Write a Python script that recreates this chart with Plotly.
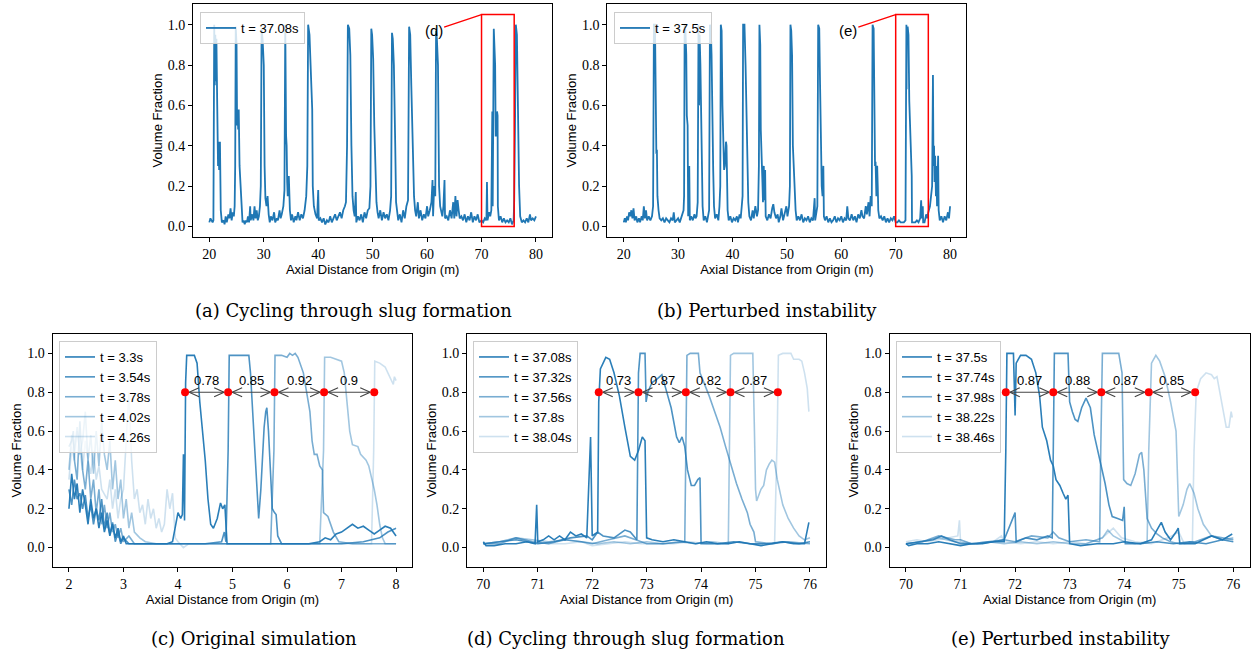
import plotly.graph_objects as go

# ---------------- data ----------------
# (a) t = 37.08s, 20..80 m
a_x = [20.0,20.2,20.4,20.6,20.75,20.8,20.9,21.0,21.1,21.2,21.3,21.45,21.6,21.7,21.8,21.95,22.1,22.3,22.6,22.8,23.0,23.2,23.5,23.7,23.9,24.1,24.3,24.5,24.65,24.75,24.85,25.0,25.1,25.2,25.3,25.4,25.55,25.7,25.9,26.0,26.1,26.3,26.5,26.7,26.9,27.1,27.3,27.5,27.6,27.9,28.1,28.3,28.5,28.7,28.9,29.1,29.3,29.45,29.6,29.8,30.0,30.15,30.3,30.5,30.7,30.9,31.1,31.3,31.6,31.9,32.1,32.4,32.6,32.9,33.1,33.3,33.6,33.8,33.95,34.1,34.2,34.3,34.4,34.6,34.8,35.0,35.2,35.5,35.8,36.0,36.3,36.6,36.9,37.2,37.5,37.8,38.0,38.15,38.4,38.6,38.75,38.9,39.0,39.2,39.5,39.8,40.0,40.1,40.4,40.7,41.0,41.3,41.6,41.9,42.2,42.5,42.8,43.1,43.4,43.7,44.0,44.3,44.6,44.9,45.1,45.3,45.45,45.7,45.9,46.1,46.3,46.5,46.7,46.9,47.0,47.3,47.6,47.9,48.2,48.5,48.8,49.1,49.4,49.6,49.75,49.9,50.1,50.3,50.5,50.7,50.9,51.1,51.4,51.7,52.0,52.3,52.6,52.9,53.2,53.4,53.55,53.7,53.9,54.0,54.15,54.3,54.5,54.7,55.0,55.3,55.6,55.9,56.2,56.5,56.7,56.9,57.1,57.2,57.4,57.6,57.8,58.0,58.3,58.5,58.8,59.1,59.4,59.7,60.0,60.2,60.5,60.8,61.0,61.1,61.3,61.5,61.65,61.8,62.0,62.2,62.4,62.6,62.8,63.0,63.2,63.3,63.6,63.9,64.2,64.5,64.8,65.0,65.2,65.4,65.6,65.8,66.0,66.3,66.6,66.9,67.2,67.5,67.8,68.1,68.4,68.7,69.0,69.3,69.6,70.0,70.3,70.6,70.9,71.0,71.1,71.4,71.6,71.8,71.98,72.05,72.15,72.25,72.5,72.6,72.75,72.85,72.95,73.0,73.2,73.5,73.8,74.1,74.4,74.7,75.0,75.3,75.6,75.9,76.0,76.15,76.3,76.5,76.7,76.9,77.1,77.4,77.7,78.0,78.3,78.6,78.9,79.1,79.4,79.7,80.0]
a_y = [0.02,0.04,0.03,0.02,0.03,0.55,1.00,0.70,0.95,0.72,0.93,0.60,0.30,0.42,0.28,0.42,0.08,0.02,0.03,0.01,0.05,0.02,0.06,0.04,0.09,0.03,0.07,0.05,0.10,0.30,0.99,0.90,0.50,0.58,0.48,0.58,0.30,0.22,0.15,0.12,0.02,0.03,0.01,0.03,0.02,0.05,0.02,0.10,0.03,0.06,0.03,0.10,0.04,0.08,0.03,0.05,0.10,0.20,0.98,0.92,0.80,0.30,0.14,0.10,0.15,0.06,0.02,0.05,0.03,0.07,0.02,0.04,0.03,0.08,0.04,0.06,0.10,0.18,1.00,0.45,0.40,0.22,0.15,0.25,0.08,0.03,0.06,0.02,0.05,0.03,0.07,0.03,0.06,0.04,0.08,0.15,0.30,1.00,0.95,0.80,0.60,0.58,0.20,0.10,0.06,0.04,0.18,0.03,0.04,0.02,0.04,0.01,0.03,0.02,0.05,0.02,0.04,0.06,0.03,0.05,0.07,0.04,0.08,0.10,0.12,0.40,1.00,0.98,0.85,0.40,0.15,0.08,0.05,0.17,0.02,0.05,0.03,0.06,0.02,0.07,0.04,0.08,0.09,0.20,0.98,0.95,0.83,0.50,0.25,0.12,0.07,0.04,0.08,0.03,0.07,0.04,0.06,0.03,0.08,0.15,0.96,0.93,0.80,0.45,0.40,0.12,0.08,0.03,0.06,0.02,0.08,0.04,0.10,0.13,0.99,0.95,0.70,0.58,0.30,0.15,0.08,0.05,0.12,0.04,0.08,0.03,0.06,0.04,0.10,0.05,0.08,0.12,0.23,0.05,0.20,0.15,0.97,0.93,0.80,0.20,0.10,0.07,0.05,0.10,0.23,0.04,0.05,0.03,0.08,0.04,0.12,0.04,0.15,0.05,0.13,0.08,0.04,0.05,0.03,0.06,0.02,0.05,0.03,0.07,0.02,0.05,0.03,0.06,0.02,0.03,0.02,0.04,0.03,0.22,0.03,0.07,0.05,0.08,0.57,0.10,0.75,0.98,0.80,0.45,0.45,0.57,0.55,0.10,0.03,0.05,0.02,0.04,0.02,0.03,0.02,0.04,0.01,0.03,0.13,0.50,1.00,0.95,0.50,0.20,0.05,0.02,0.03,0.02,0.04,0.02,0.06,0.03,0.04,0.03,0.05]

# (b) t = 37.5s, 20..80 m
b_x = [20.0,20.2,20.4,20.6,20.8,21.0,21.2,21.4,21.6,21.8,22.0,22.3,22.5,22.8,23.0,23.3,23.5,23.7,23.9,24.1,24.3,24.6,24.9,25.2,25.4,25.55,25.75,25.9,26.0,26.1,26.2,26.4,26.6,26.9,27.2,27.5,27.8,28.1,28.4,28.7,29.0,29.2,29.4,29.7,30.0,30.3,30.6,30.8,31.0,31.1,31.2,31.35,31.5,31.6,31.75,31.85,32.05,32.15,32.4,32.7,33.0,33.2,33.4,33.6,33.75,33.85,33.95,34.1,34.2,34.3,34.4,34.5,34.7,35.0,35.3,35.5,35.7,35.85,36.0,36.15,36.3,36.45,36.6,36.8,37.1,37.4,37.6,37.75,37.85,38.0,38.15,38.3,38.45,38.6,38.8,38.9,39.1,39.3,39.6,39.9,40.2,40.5,40.8,41.0,41.3,41.5,41.7,41.85,41.95,42.2,42.4,42.6,42.75,42.9,43.1,43.4,43.7,43.9,44.2,44.5,44.7,44.85,44.95,45.1,45.2,45.35,45.5,45.6,45.75,45.85,46.0,46.1,46.4,46.7,47.0,47.3,47.5,47.7,48.0,48.3,48.5,48.8,49.0,49.3,49.6,49.9,50.1,50.4,50.55,50.65,50.8,50.95,51.1,51.25,51.4,51.6,51.8,52.1,52.4,52.7,53.0,53.3,53.6,53.9,54.2,54.5,54.8,55.1,55.2,55.4,55.6,55.75,55.95,56.1,56.25,56.4,56.55,56.7,56.8,57.0,57.3,57.6,57.9,58.2,58.5,58.8,59.1,59.4,59.7,60.0,60.3,60.6,60.9,61.1,61.3,61.6,61.9,62.2,62.5,62.8,63.1,63.4,63.7,63.9,64.2,64.5,64.7,65.0,65.2,65.4,65.6,65.75,65.95,66.1,66.2,66.3,66.45,66.6,66.7,66.8,67.0,67.3,67.6,67.9,68.2,68.5,68.8,69.1,69.4,69.7,70.0,70.3,70.6,70.9,71.2,71.5,71.8,71.83,71.85,71.97,72.0,72.05,72.2,72.35,72.5,72.65,72.8,72.95,73.0,73.3,73.6,73.9,74.2,74.5,74.68,74.8,74.98,75.05,75.3,75.6,75.8,76.0,76.3,76.5,76.7,76.85,76.95,77.05,77.15,77.25,77.4,77.5,77.6,77.8,77.9,78.1,78.4,78.7,79.0,79.3,79.6,79.8,80.0]
b_y = [0.02,0.04,0.02,0.05,0.03,0.07,0.05,0.08,0.04,0.09,0.03,0.05,0.02,0.04,0.02,0.05,0.03,0.10,0.04,0.08,0.03,0.05,0.03,0.05,0.10,1.00,1.00,0.40,0.36,0.38,0.15,0.08,0.04,0.03,0.04,0.02,0.04,0.03,0.02,0.04,0.03,0.07,0.02,0.03,0.04,0.02,0.05,0.06,0.08,0.15,1.00,0.97,0.85,0.55,0.50,0.05,0.30,0.03,0.05,0.03,0.06,0.04,0.05,0.12,1.00,0.60,0.95,0.80,0.60,0.42,0.40,0.10,0.03,0.05,0.02,0.06,0.08,1.00,0.98,0.85,0.45,0.28,0.10,0.04,0.06,0.03,0.10,0.20,1.00,0.97,0.60,0.35,0.28,0.30,0.42,0.40,0.08,0.03,0.05,0.02,0.04,0.03,0.05,0.02,0.06,0.04,0.10,0.15,1.00,1.00,0.80,0.55,0.30,0.12,0.05,0.03,0.08,0.04,0.10,0.05,0.08,0.30,1.00,0.90,0.48,0.25,0.22,0.12,0.30,0.13,0.28,0.05,0.03,0.06,0.04,0.09,0.11,0.07,0.04,0.06,0.02,0.05,0.09,0.03,0.06,0.10,0.05,0.10,0.20,1.00,0.97,0.85,0.40,0.30,0.18,0.08,0.03,0.05,0.03,0.06,0.02,0.04,0.03,0.05,0.02,0.04,0.03,0.14,0.03,0.06,0.10,1.00,0.98,0.70,0.30,0.20,0.15,0.30,0.05,0.03,0.05,0.02,0.04,0.02,0.03,0.05,0.02,0.04,0.03,0.05,0.02,0.04,0.03,0.10,0.04,0.03,0.06,0.03,0.05,0.02,0.06,0.04,0.08,0.05,0.04,0.10,0.06,0.12,0.05,0.15,0.10,1.00,0.98,0.60,0.30,0.32,0.15,0.30,0.20,0.08,0.04,0.05,0.03,0.05,0.02,0.04,0.02,0.04,0.03,0.05,0.02,0.02,0.03,0.02,0.02,0.02,0.03,0.50,1.00,1.00,0.68,0.97,0.99,0.95,0.62,0.45,0.32,0.25,0.02,0.02,0.02,0.03,0.02,0.04,0.13,0.04,0.10,0.02,0.02,0.06,0.04,0.07,0.10,0.15,0.20,0.75,0.30,0.40,0.22,0.35,0.15,0.30,0.10,0.35,0.08,0.03,0.05,0.02,0.05,0.03,0.07,0.04,0.10]

# (c) original simulation, 2..8 m
c_labels = ["t = 3.3s", "t = 3.54s", "t = 3.78s", "t = 4.02s", "t = 4.26s"]
c1_x = [2.0,2.05,2.1,2.15,2.2,2.25,2.3,2.35,2.4,2.45,2.5,2.55,2.6,2.65,2.7,2.75,2.8,2.85,2.9,2.95,3.0,3.05,3.2,3.5,3.8,3.9,3.95,4.0,4.05,4.08,4.1,4.12,4.14,4.16,4.3,4.35,4.4,4.45,4.5,4.55,4.6,4.65,4.72,4.78,4.82,4.86,4.9,5.2,5.6,6.0,6.4,6.6,6.7,6.8,6.9,7.0,7.1,7.2,7.3,7.4,7.5,7.6,7.7,7.8,7.9,8.0]
c1_y = [0.20,0.38,0.25,0.33,0.18,0.30,0.22,0.12,0.25,0.15,0.20,0.10,0.18,0.08,0.14,0.06,0.12,0.05,0.10,0.03,0.06,0.02,0.02,0.02,0.02,0.03,0.10,0.18,0.15,0.17,0.48,0.14,0.85,0.99,0.99,0.95,0.75,0.60,0.45,0.25,0.12,0.10,0.15,0.23,0.20,0.22,0.02,0.02,0.02,0.02,0.02,0.03,0.05,0.04,0.07,0.08,0.10,0.12,0.10,0.11,0.09,0.07,0.09,0.11,0.10,0.06]
c2_x = [2.0,2.05,2.1,2.15,2.2,2.25,2.3,2.35,2.4,2.45,2.5,2.55,2.6,2.65,2.7,2.75,2.8,2.85,2.9,2.95,3.0,3.1,3.5,4.0,4.5,4.8,4.85,4.88,4.92,4.94,5.3,5.33,5.36,5.4,5.45,5.48,5.52,5.55,5.58,5.61,5.63,5.66,5.7,5.73,5.77,5.8,5.83,5.9,6.5,7.0,7.4,7.7,7.85,8.0]
c2_y = [0.30,0.22,0.35,0.25,0.28,0.20,0.27,0.15,0.22,0.12,0.20,0.14,0.25,0.10,0.18,0.07,0.13,0.03,0.08,0.02,0.05,0.02,0.02,0.02,0.02,0.03,0.08,0.03,0.50,0.99,0.99,0.90,0.75,0.50,0.25,0.15,0.30,0.45,0.62,0.70,0.72,0.60,0.40,0.20,0.18,0.17,0.06,0.02,0.02,0.02,0.03,0.05,0.08,0.10]
c3_x = [2.0,2.05,2.08,2.1,2.15,2.2,2.25,2.3,2.35,2.4,2.45,2.5,2.55,2.6,2.65,2.7,2.75,2.8,2.85,2.9,2.95,3.0,3.1,3.2,3.5,4.0,4.5,5.0,5.5,5.7,5.76,5.78,5.9,6.0,6.05,6.1,6.15,6.2,6.3,6.38,6.42,6.46,6.5,6.55,6.6,6.65,6.67,6.75,6.85,6.95,7.2,7.6,8.0]
c3_y = [0.52,0.55,0.60,0.45,0.35,0.65,0.40,0.30,0.45,0.25,0.35,0.18,0.30,0.12,0.22,0.10,0.18,0.08,0.12,0.05,0.10,0.03,0.06,0.02,0.02,0.02,0.02,0.02,0.02,0.02,0.50,0.99,0.99,0.98,1.00,0.99,1.00,0.98,0.90,0.75,0.70,0.55,0.48,0.48,0.42,0.40,0.18,0.16,0.08,0.03,0.02,0.02,0.02]
c4_x = [2.0,2.05,2.1,2.15,2.2,2.25,2.3,2.35,2.4,2.45,2.5,2.55,2.6,2.65,2.7,2.75,2.8,2.85,2.9,2.95,3.0,3.05,3.1,3.15,3.2,3.3,3.4,3.6,4.0,5.0,6.0,6.6,6.67,6.69,6.8,6.9,7.0,7.05,7.1,7.15,7.2,7.3,7.35,7.45,7.5,7.55,7.6,7.65,7.7,7.75,7.8,8.0]
c4_y = [0.40,0.58,0.50,0.62,0.48,0.55,0.70,0.45,0.58,0.38,0.60,0.42,0.65,0.48,0.40,0.55,0.30,0.45,0.25,0.35,0.15,0.25,0.10,0.18,0.08,0.05,0.03,0.02,0.02,0.02,0.02,0.02,0.50,0.98,0.98,0.97,0.96,0.90,0.75,0.60,0.53,0.52,0.48,0.45,0.42,0.36,0.30,0.22,0.12,0.05,0.02,0.02]
c5_x = [2.0,2.05,2.1,2.15,2.2,2.25,2.3,2.35,2.4,2.45,2.5,2.55,2.6,2.7,2.75,2.8,2.85,2.9,2.95,3.0,3.05,3.1,3.15,3.2,3.25,3.3,3.35,3.4,3.45,3.5,3.55,3.6,3.65,3.7,3.75,3.8,3.85,3.9,3.95,4.0,4.1,4.2,5.0,6.0,7.0,7.55,7.59,7.61,7.7,7.8,7.85,7.9,7.95,7.97,8.0]
c5_y = [0.35,0.52,0.45,0.60,0.50,0.40,0.55,0.45,0.38,0.50,0.35,0.42,0.30,0.25,0.35,0.20,0.30,0.15,0.25,0.30,0.55,0.80,0.45,0.25,0.30,0.18,0.22,0.12,0.25,0.15,0.20,0.10,0.15,0.08,0.12,0.30,0.20,0.28,0.05,0.03,0.00,0.02,0.02,0.02,0.02,0.02,0.50,0.96,0.95,0.93,0.90,0.87,0.84,0.88,0.86]
c_marks = [4.13, 4.92, 5.77, 6.68, 7.60]
c_speeds = ["0.78", "0.85", "0.92", "0.9"]

# (d) cycling through slug formation, 70..76 m
d_labels = ["t = 37.08s", "t = 37.32s", "t = 37.56s", "t = 37.8s", "t = 38.04s"]
d1_x = [70.0,70.05,70.2,70.4,70.6,70.8,70.95,70.98,71.0,71.1,71.2,71.3,71.4,71.5,71.6,71.7,71.8,71.9,71.97,72.0,72.05,72.1,72.12,72.15,72.25,72.32,72.4,72.5,72.6,72.7,72.78,72.85,72.92,72.97,73.0,73.1,73.3,73.5,73.7,73.9,74.1,74.3,74.5,74.7,74.9,75.1,75.3,75.5,75.7,75.9,75.98]
d1_y = [0.03,0.01,0.01,0.02,0.02,0.03,0.02,0.22,0.03,0.04,0.06,0.04,0.06,0.04,0.08,0.06,0.07,0.05,0.57,0.06,0.07,0.08,0.75,0.92,0.98,0.97,0.90,0.78,0.62,0.47,0.45,0.50,0.57,0.55,0.05,0.04,0.03,0.04,0.03,0.02,0.03,0.02,0.02,0.03,0.02,0.01,0.02,0.03,0.02,0.02,0.13]
d2_x = [70.0,70.3,70.6,70.8,71.0,71.3,71.6,71.9,72.0,72.1,72.2,72.4,72.6,72.7,72.82,72.85,72.88,72.97,72.99,73.02,73.1,73.2,73.28,73.35,73.45,73.55,73.6,73.65,73.7,73.75,73.82,73.88,73.94,73.98,74.0,74.3,74.6,74.9,75.2,75.5,75.8,76.0]
d2_y = [0.02,0.03,0.04,0.03,0.02,0.03,0.05,0.06,0.04,0.08,0.06,0.05,0.09,0.08,0.04,0.90,1.00,1.00,0.75,0.80,0.85,0.87,0.89,0.82,0.72,0.57,0.54,0.57,0.52,0.40,0.32,0.32,0.35,0.36,0.02,0.02,0.03,0.02,0.02,0.03,0.02,0.03]
d3_x = [70.0,70.3,70.6,70.9,71.2,71.5,71.8,72.0,72.3,72.6,72.8,73.0,73.3,73.6,73.7,73.72,73.74,73.8,73.95,73.98,74.05,74.1,74.15,74.25,74.35,74.45,74.55,74.65,74.75,74.85,74.9,74.97,75.0,75.3,75.6,76.0]
d3_y = [0.02,0.02,0.05,0.03,0.02,0.04,0.03,0.02,0.04,0.06,0.04,0.02,0.02,0.03,0.03,0.50,0.99,1.00,1.00,0.90,0.85,0.82,0.78,0.70,0.62,0.52,0.42,0.33,0.25,0.18,0.12,0.08,0.03,0.02,0.03,0.02]
d4_x = [70.0,70.3,70.6,70.9,71.2,71.5,71.8,72.1,72.4,72.7,73.0,73.3,73.6,73.9,74.2,74.5,74.52,74.54,74.6,74.95,74.98,75.0,75.02,75.06,75.1,75.15,75.2,75.25,75.3,75.35,75.4,75.5,75.6,75.7,75.8,75.9,76.0]
d4_y = [0.02,0.03,0.05,0.04,0.03,0.04,0.03,0.02,0.03,0.02,0.03,0.02,0.03,0.02,0.03,0.02,0.50,0.99,1.00,1.00,0.60,0.30,0.24,0.27,0.30,0.32,0.40,0.43,0.45,0.44,0.35,0.22,0.15,0.10,0.06,0.04,0.05]
d5_x = [70.0,70.3,70.6,70.9,71.2,71.5,71.8,72.0,72.3,72.6,72.9,73.2,73.5,73.8,74.1,74.4,74.7,74.9,75.1,75.35,75.4,75.42,75.5,75.65,75.7,75.8,75.85,75.9,75.95,75.98]
d5_y = [0.02,0.03,0.05,0.03,0.02,0.02,0.03,0.01,0.02,0.03,0.02,0.02,0.02,0.03,0.02,0.02,0.03,0.02,0.02,0.02,0.60,0.99,1.00,1.00,0.97,0.97,0.96,0.90,0.82,0.70]
d_marks = [72.12, 72.85, 73.72, 74.54, 75.41]
d_speeds = ["0.73", "0.87", "0.82", "0.87"]

# (e) perturbed instability, 70..76 m
e_labels = ["t = 37.5s", "t = 37.74s", "t = 37.98s", "t = 38.22s", "t = 38.46s"]
e1_x = [70.0,70.05,70.2,70.4,70.6,70.8,71.0,71.2,71.4,71.6,71.8,71.83,71.85,71.97,72.0,72.02,72.1,72.2,72.3,72.38,72.45,72.5,72.58,72.65,72.7,72.75,72.82,72.88,72.93,72.97,73.0,73.2,73.5,73.8,74.0,74.3,74.5,74.62,74.68,74.75,74.85,74.95,74.99,75.02,75.3,75.6,75.8,75.98]
e1_y = [0.02,0.01,0.02,0.02,0.03,0.02,0.01,0.02,0.02,0.03,0.03,0.50,1.00,1.00,0.68,0.95,0.99,0.99,0.97,0.90,0.78,0.62,0.55,0.45,0.42,0.35,0.32,0.28,0.25,0.27,0.02,0.01,0.02,0.02,0.03,0.02,0.04,0.10,0.13,0.08,0.04,0.08,0.10,0.02,0.02,0.06,0.04,0.07]
e2_x = [70.0,70.3,70.5,70.65,70.8,71.0,71.3,71.6,71.8,72.0,72.02,72.2,72.4,72.6,72.68,72.7,72.72,72.97,73.0,73.05,73.1,73.15,73.22,73.3,73.38,73.45,73.55,73.65,73.72,73.78,73.88,73.97,74.0,74.02,74.3,74.6,74.9,75.2,75.5,75.8,76.0]
e2_y = [0.02,0.03,0.04,0.06,0.04,0.02,0.02,0.03,0.04,0.18,0.03,0.05,0.04,0.06,0.05,0.50,1.00,1.00,0.75,0.70,0.66,0.65,0.72,0.77,0.72,0.58,0.45,0.33,0.22,0.16,0.15,0.14,0.21,0.02,0.02,0.03,0.02,0.03,0.02,0.04,0.03]
e3_x = [70.0,70.3,70.6,70.9,71.0,71.2,71.5,71.8,72.0,72.3,72.6,72.7,72.8,73.0,73.3,73.55,73.57,73.6,73.9,73.96,73.99,74.05,74.12,74.2,74.28,74.32,74.36,74.42,74.5,74.6,74.7,74.85,75.0,75.3,75.6,76.0]
e3_y = [0.02,0.03,0.06,0.04,0.04,0.02,0.03,0.04,0.03,0.06,0.05,0.08,0.05,0.03,0.04,0.03,0.50,1.00,1.00,0.90,0.35,0.33,0.32,0.38,0.48,0.49,0.40,0.15,0.10,0.07,0.05,0.03,0.02,0.03,0.06,0.04]
e4_x = [70.0,70.3,70.6,70.9,71.2,71.5,71.8,72.1,72.4,72.7,73.0,73.3,73.6,73.7,73.8,74.0,74.2,74.42,74.45,74.5,74.58,74.65,74.75,74.85,74.95,74.99,75.0,75.08,75.15,75.2,75.28,75.35,75.45,75.6,75.8,76.0]
e4_y = [0.02,0.03,0.05,0.03,0.02,0.03,0.02,0.03,0.02,0.03,0.02,0.02,0.05,0.09,0.06,0.03,0.02,0.03,0.50,0.95,0.99,0.96,0.88,0.75,0.60,0.30,0.16,0.22,0.30,0.33,0.28,0.20,0.12,0.06,0.04,0.05]
e5_x = [70.0,70.2,70.4,70.6,70.8,70.95,70.98,71.0,71.3,71.6,71.75,71.8,72.1,72.4,72.7,73.0,73.3,73.6,73.8,73.95,74.2,74.5,74.8,75.0,75.1,75.25,75.28,75.32,75.4,75.5,75.6,75.65,75.7,75.75,75.82,75.87,75.92,75.96,75.98]
e5_y = [0.03,0.04,0.03,0.04,0.05,0.06,0.14,0.03,0.02,0.03,0.06,0.03,0.02,0.03,0.02,0.03,0.02,0.05,0.10,0.05,0.03,0.02,0.05,0.08,0.02,0.03,0.50,0.80,0.87,0.90,0.89,0.87,0.88,0.80,0.70,0.62,0.62,0.70,0.67]
e_marks = [71.83, 72.70, 73.58, 74.45, 75.30]
e_speeds = ["0.87", "0.88", "0.87", "0.85"]

captions = ["(a) Cycling through slug formation", "(b) Perturbed instability",
            "(c) Original simulation", "(d) Cycling through slug formation",
            "(e) Perturbed instability"]
zoom_box = {"x0": 70, "x1": 76, "y0": 0.0, "y1": 1.05}
# ---------------- figure ----------------
W, H = 1256, 655
BLUE = (31, 119, 180)
alphas = [0.95, 0.8, 0.6, 0.42, 0.22]
SERIF = "Liberation Serif, DejaVu Serif, serif"
CAPSERIF = "DejaVu Serif, serif"
SANS = "Liberation Sans, Arial, sans-serif"


def px_dom(a, b, total):
    return [a / total, b / total]


def ydom(top, bot):
    return [1 - bot / H, 1 - top / H]


panels = {
    1: dict(xd=px_dom(193.0, 552.3, W), yd=ydom(4, 237), xr=[17, 83], yr=[-0.0525, 1.1025],
            xt=[20, 30, 40, 50, 60, 70, 80]),
    2: dict(xd=px_dom(607.4, 966.4, W), yd=ydom(4, 237), xr=[17, 83], yr=[-0.0525, 1.1025],
            xt=[20, 30, 40, 50, 60, 70, 80]),
    3: dict(xd=px_dom(52.6, 412.4, W), yd=ydom(334, 567), xr=[1.7, 8.3], yr=[-0.1, 1.1],
            xt=[2, 3, 4, 5, 6, 7, 8]),
    4: dict(xd=px_dom(467.0, 826.3, W), yd=ydom(334, 567), xr=[69.7, 76.3], yr=[-0.1, 1.1],
            xt=[70, 71, 72, 73, 74, 75, 76]),
    5: dict(xd=px_dom(889.6, 1249.7, W), yd=ydom(334, 567), xr=[69.7, 76.3], yr=[-0.1, 1.1],
            xt=[70, 71, 72, 73, 74, 75, 76]),
}

fig = go.Figure()
layout = dict(width=W, height=H, margin=dict(l=0, r=0, t=0, b=0, autoexpand=False),
              paper_bgcolor="white", plot_bgcolor="white", showlegend=True)

for i, p in panels.items():
    sx = "" if i == 1 else str(i)
    layout["xaxis" + sx] = dict(
        domain=p["xd"], range=p["xr"], anchor="y" + sx, tickvals=p["xt"], automargin=False,
        showline=True, mirror=True, linecolor="black", linewidth=1,
        ticks="outside", ticklen=4, tickcolor="black", showgrid=False, zeroline=False,
        tickfont=dict(family=SERIF, size=14, color="black"),
        title=dict(text="Axial Distance from Origin (m)", standoff=4,
                   font=dict(family=SANS, size=13, color="black")))
    layout["yaxis" + sx] = dict(
        domain=p["yd"], range=p["yr"], anchor="x" + sx, automargin=False,
        tickvals=[0, 0.2, 0.4, 0.6, 0.8, 1.0], tickformat=".1f",
        showline=True, mirror=True, linecolor="black", linewidth=1,
        ticks="outside", ticklen=4, tickcolor="black", showgrid=False, zeroline=False,
        tickfont=dict(family=SERIF, size=14, color="black"),
        title=dict(text="Volume Fraction", standoff=2,
                   font=dict(family=SANS, size=13, color="black")))


def legend_cfg(xpx, ypx):
    return dict(x=xpx / W, y=1 - ypx / H, xanchor="left", yanchor="top",
                bgcolor="rgba(255,255,255,0.8)", bordercolor="#cccccc", borderwidth=1,
                font=dict(family=SANS, size=13, color="black"), tracegroupgap=0,
                itemwidth=30)


layout["legend"] = legend_cfg(200, 12)
layout["legend2"] = legend_cfg(614, 12)
layout["legend3"] = legend_cfg(59, 341)
layout["legend4"] = legend_cfg(473, 341)
layout["legend5"] = legend_cfg(896, 341)

# top traces
fig.add_trace(go.Scatter(x=a_x, y=a_y, mode="lines", name="t = 37.08s",
                         line=dict(color="rgb(31,119,180)", width=1.8),
                         xaxis="x", yaxis="y", legend="legend"))
fig.add_trace(go.Scatter(x=b_x, y=b_y, mode="lines", name="t = 37.5s",
                         line=dict(color="rgb(31,119,180)", width=1.8),
                         xaxis="x2", yaxis="y2", legend="legend2"))

bottom = [
    (3, [(c1_x, c1_y), (c2_x, c2_y), (c3_x, c3_y), (c4_x, c4_y), (c5_x, c5_y)], c_labels, c_marks, c_speeds),
    (4, [(d1_x, d1_y), (d2_x, d2_y), (d3_x, d3_y), (d4_x, d4_y), (d5_x, d5_y)], d_labels, d_marks, d_speeds),
    (5, [(e1_x, e1_y), (e2_x, e2_y), (e3_x, e3_y), (e4_x, e4_y), (e5_x, e5_y)], e_labels, e_marks, e_speeds),
]

annotations = []
shapes = []
ARROW_Y = 0.8
for idx, series, labels, marks, speeds in bottom:
    sx = str(idx)
    for (xs, ys), lab, al in zip(series, labels, alphas):
        fig.add_trace(go.Scatter(x=xs, y=ys, mode="lines", name=lab,
                                 line=dict(color=f"rgba({BLUE[0]},{BLUE[1]},{BLUE[2]},{al})", width=1.6),
                                 xaxis="x" + sx, yaxis="y" + sx, legend="legend" + sx))
    # double-headed arrows between successive slug fronts
    xr = panels[idx]["xr"]
    yr = panels[idx]["yr"]
    dom = panels[idx]["xd"]
    ydm = panels[idx]["yd"]
    ppx = (dom[1] - dom[0]) * W / (xr[1] - xr[0])  # pixels per x unit
    ppy = (ydm[1] - ydm[0]) * H / (yr[1] - yr[0])  # pixels per y unit
    s = 4 / ppx
    L = 10 / ppx
    h = 4.5 / ppy
    ax_, ay_ = [], []
    for x0, x1 in zip(marks[:-1], marks[1:]):
        a0, a1 = x0 + s, x1 - s
        ax_ += [a0, a1, None]
        ay_ += [ARROW_Y, ARROW_Y, None]
        ax_ += [a0 + L, a0, a0 + L, None, a1 - L, a1, a1 - L, None]
        ay_ += [ARROW_Y + h, ARROW_Y, ARROW_Y - h, None, ARROW_Y + h, ARROW_Y, ARROW_Y - h, None]
    fig.add_trace(go.Scatter(x=ax_, y=ay_, mode="lines", showlegend=False, hoverinfo="skip",
                             line=dict(color="#444444", width=1.2),
                             xaxis="x" + sx, yaxis="y" + sx))
    fig.add_trace(go.Scatter(x=marks, y=[ARROW_Y] * len(marks), mode="markers", showlegend=False,
                             marker=dict(color="red", size=8),
                             xaxis="x" + sx, yaxis="y" + sx))
    for x0, x1, sp in zip(marks[:-1], marks[1:], speeds):
        annotations.append(dict(x=(x0 + x1) / 2, y=ARROW_Y + 0.06, xref="x" + sx, yref="y" + sx,
                                text=sp, showarrow=False,
                                font=dict(family=SANS, size=13, color="black")))

# zoom boxes and labels on top panels
for sx, lab in [("", "(d)"), ("2", "(e)")]:
    shapes.append(dict(type="rect", xref="x" + sx, yref="y" + sx,
                       x0=zoom_box["x0"], x1=zoom_box["x1"], y0=zoom_box["y0"], y1=zoom_box["y1"],
                       line=dict(color="red", width=1.5)))
    annotations.append(dict(x=zoom_box["x0"], y=zoom_box["y1"], xref="x" + sx, yref="y" + sx,
                            ax=61.2, ay=0.97, axref="x" + sx, ayref="y" + sx,
                            text=lab, showarrow=True, arrowhead=0, arrowcolor="red",
                            arrowwidth=1.3, standoff=0,
                            font=dict(family=SANS, size=15, color="black")))

# captions
cap_pos = [(353, 310), (767, 310), (254, 638), (626, 638), (1060, 638)]
for txt, (cx, cy) in zip(captions, cap_pos):
    annotations.append(dict(x=cx / W, y=1 - cy / H, xref="paper", yref="paper",
                            text=txt, showarrow=False, xanchor="center", yanchor="middle",
                            font=dict(family=CAPSERIF, size=18, color="black")))

layout["annotations"] = annotations
layout["shapes"] = shapes
fig.update_layout(**layout)
fig.write_html("out.html", config={"displayModeBar": False},
               post_script="document.body.style.margin='0px';document.body.style.padding='0px';")
